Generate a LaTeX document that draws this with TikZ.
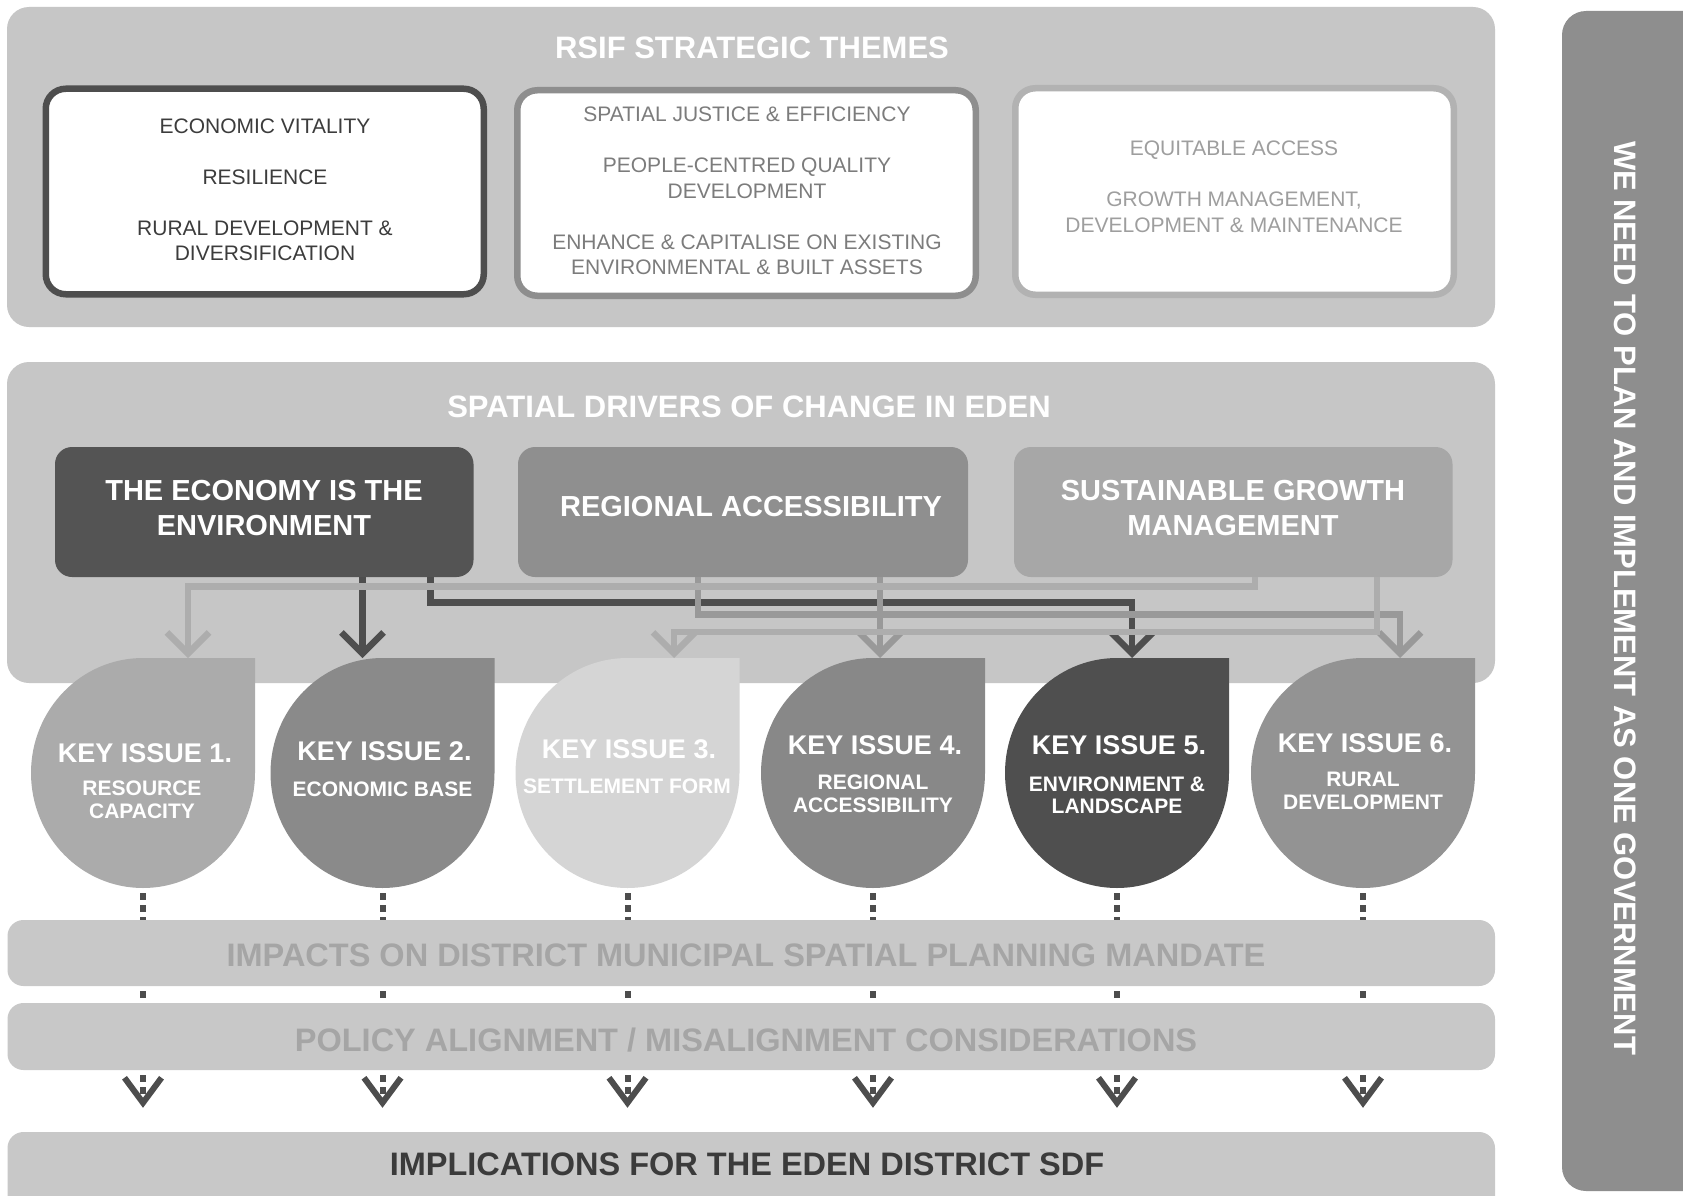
\documentclass[tikz,border=0pt]{standalone}
\usepackage{fontspec}
\setmainfont{Liberation Sans}
\usetikzlibrary{arrows.meta}

\definecolor{panelgrey}{HTML}{C6C6C6}
\definecolor{rowgrey}{HTML}{C8C8C8}
\definecolor{rowtext}{HTML}{A5A5A5}
\definecolor{barfill}{HTML}{8E8E8E}
\definecolor{edgeA}{HTML}{4E4E4E}
\definecolor{edgeB}{HTML}{8E8E8E}
\definecolor{edgeC}{HTML}{B2B2B2}
\definecolor{txtA}{HTML}{3C3C3C}
\definecolor{txtB}{HTML}{7C7C7C}
\definecolor{txtC}{HTML}{9E9E9E}
\definecolor{drvA}{HTML}{545454}
\definecolor{drvB}{HTML}{8F8F8F}
\definecolor{drvC}{HTML}{A7A7A7}
\definecolor{keyA}{HTML}{ABABAB}
\definecolor{keyB}{HTML}{8A8A8A}
\definecolor{keyC}{HTML}{D5D5D5}
\definecolor{keyD}{HTML}{888888}
\definecolor{keyE}{HTML}{4F4F4F}
\definecolor{keyF}{HTML}{939393}
\definecolor{lnDark}{HTML}{4E4E4E}
\definecolor{lnMid}{HTML}{999999}
\definecolor{lnLight}{HTML}{ADADAD}
\definecolor{dashgrey}{HTML}{4D4D4D}
\definecolor{sdftext}{HTML}{3B3B3B}

% leaf-shaped key issue badge: rounded everywhere except the top-right corner
\newcommand\keydrop[2]{%
  \fill[#2] (#1,658) -- ({#1+112},658) -- ({#1+112},773)
    .. controls ({#1+112},836.5) and ({#1+61.9},888) .. (#1,888)
    .. controls ({#1-61.9},888) and ({#1-112},836.5) .. ({#1-112},773)
    .. controls ({#1-112},709.5) and ({#1-61.9},658) .. (#1,658) -- cycle;}

\begin{document}
\begin{tikzpicture}[x=1pt,y=-1pt,
  panel/.style={fill=panelgrey, rounded corners=22pt},
  theme/.style={fill=white, line width=6.5pt, rounded corners=20pt},
  driver/.style={rectangle, rounded corners=17pt, inner sep=0pt, minimum height=130pt},
  band/.style={rectangle, rounded corners=16pt, fill=rowgrey, inner sep=0pt, minimum width=1487.5pt},
  head/.style={font=\fontsize{31}{37}\selectfont\bfseries, text=white, inner sep=0pt},
  themetext/.style={font=\fontsize{21}{25.5}\selectfont, align=center, inner sep=0pt},
  drvtext/.style={font=\fontsize{29}{34.5}\selectfont\bfseries, text=white, align=center, inner sep=0pt},
  keytitle/.style={font=\fontsize{27}{32}\selectfont\bfseries, text=white, inner sep=0pt},
  keysub/.style={font=\fontsize{21}{22.5}\selectfont\bfseries, text=white, align=center, inner sep=0pt},
  bandtext/.style={font=\fontsize{32.5}{38}\selectfont\bfseries, inner sep=0pt},
  feed/.style={line width=6.5pt, -{Straight Barb[length=21pt,width=42pt,line width=6.5pt]}},
  dots/.style={draw=dashgrey, line width=6pt, dash pattern=on 7pt off 5pt, dash phase=7pt},
  dotsarrow/.style={dots, -{Straight Barb[length=25pt,width=37pt,line width=6pt]}},
]
\useasboundingbox (0,0) rectangle (1683,1196);
\clip (0,0) rectangle (1683,1196);
\fill[white] (0,0) rectangle (1683,1196);

% ---- strategic themes panel
\fill[panel] (7,7) rectangle (1495,327);
\node[head] (hTheme) at (752,48) {RSIF STRATEGIC THEMES};
\draw[theme, draw=edgeA] (45.75,88.75) rectangle (483.75,294.25);
\draw[theme, draw=edgeB] (517.25,90.25) rectangle (975.75,295.75);
\draw[theme, draw=edgeC] (1015.25,88.25) rectangle (1453.75,294.75);
\node[themetext, text=txtA] (thA) at (265,190) {ECONOMIC VITALITY\\[25.5pt]RESILIENCE\\[25.5pt]RURAL DEVELOPMENT \&\\DIVERSIFICATION};
\node[themetext, text=txtB] (thB) at (747,191) {SPATIAL JUSTICE \& EFFICIENCY\\[25.5pt]PEOPLE-CENTRED QUALITY\\DEVELOPMENT\\[25.5pt]ENHANCE \& CAPITALISE ON EXISTING\\ENVIRONMENTAL \& BUILT ASSETS};
\node[themetext, text=txtC] (thC) at (1234,186.7) {EQUITABLE ACCESS\\[25.5pt]GROWTH MANAGEMENT,\\DEVELOPMENT \& MAINTENANCE};

% ---- spatial drivers panel
\fill[panel] (7,362) rectangle (1495,683);
\node[head] (hDrive) at (749,406.5) {SPATIAL DRIVERS OF CHANGE IN EDEN};
\node[driver, fill=drvA, minimum width=418.5pt] (drA) at (264.25,512) {};
\node[driver, fill=drvB, minimum width=450pt] (drB) at (743,512) {};
\node[driver, fill=drvC, minimum width=438.5pt] (drC) at (1233.25,512) {};
\node[drvtext] (drAt) at (264,508) {THE ECONOMY IS THE\\ENVIRONMENT};
\node[drvtext] (drBt) at (751,507) {REGIONAL ACCESSIBILITY};
\node[drvtext] (drCt) at (1233,508) {SUSTAINABLE GROWTH\\MANAGEMENT};

% ---- key issues
\keydrop{143}{keyA}
\keydrop{382.5}{keyB}
\keydrop{627.5}{keyC}
\keydrop{873}{keyD}
\keydrop{1117}{keyE}
\keydrop{1363}{keyF}
\node[keytitle] (k1t) at (145,753) {KEY ISSUE 1.};
\node[keysub] (k1s) at (142,800) {RESOURCE\\CAPACITY};
\node[keytitle] (k2t) at (384.5,751) {KEY ISSUE 2.};
\node[keysub] (k2s) at (382.5,789) {ECONOMIC BASE};
\node[keytitle] (k3t) at (629,749.5) {KEY ISSUE 3.};
\node[keysub] (k3s) at (627,786) {SETTLEMENT FORM};
\node[keytitle] (k4t) at (875,745) {KEY ISSUE 4.};
\node[keysub] (k4s) at (873,793.7) {REGIONAL\\ACCESSIBILITY};
\node[keytitle] (k5t) at (1119,745) {KEY ISSUE 5.};
\node[keysub] (k5s) at (1117,795.3) {ENVIRONMENT \&\\LANDSCAPE};
\node[keytitle] (k6t) at (1365,743.3) {KEY ISSUE 6.};
\node[keysub] (k6s) at (1363,791) {RURAL\\DEVELOPMENT};

% arrow targets on the badges and bend points of the feeds
\coordinate (a1) at (188,658);
\coordinate (a2) at (362.5,658);
\coordinate (a3) at (674,658);
\coordinate (a4) at (880,658);
\coordinate (a5) at (1132,658);
\coordinate (a6) at (1400,658);
\coordinate (w1) at (1255,586.5);
\coordinate (w3) at (1377,632);
\coordinate (w5) at (430.5,602.5);
\coordinate (w6) at (698,614.5);

\draw[feed, lnDark] (drA.south -| a2) -- (a2);
\draw[feed, lnDark] (drA.south -| w5) -- (w5) -| (a5);
\draw[feed, lnMid] (drB.south -| w6) -- (w6) -| (a6);
\draw[feed, lnMid] (drB.south -| a4) -- (a4);
\draw[feed, lnLight] (drC.south -| w1) -- (w1) -| (a1);
\draw[feed, lnLight] (drC.south -| w3) -- (w3) -| (a3);

% ---- bands below
\node[band, minimum height=66pt] (row1) at (751.25,953) {};
\node[band, minimum height=67pt] (row2) at (751.25,1036.5) {};
\node[band, minimum height=110pt] (row3) at (751.25,1187) {};
\node[bandtext, text=rowtext] (row1t) at (746,955) {IMPACTS ON DISTRICT MUNICIPAL SPATIAL PLANNING MANDATE};
\node[bandtext, text=rowtext] (row2t) at (746,1040.5) {POLICY ALIGNMENT / MISALIGNMENT CONSIDERATIONS};
\node[bandtext, text=sdftext] (row3t) at (747,1164) {IMPLICATIONS FOR THE EDEN DISTRICT SDF};

\foreach \i/\cx in {1/143,2/382.5,3/627.5,4/873,5/1117,6/1363}{
  \coordinate (kb\i) at (\cx,888);
  \draw[dots] (kb\i) -- (kb\i |- row1.north);
  \draw[dots] (kb\i |- row1.south) -- (kb\i |- row2.north);
  \draw[dotsarrow, shorten >=24pt] (kb\i |- row2.south) -- (kb\i |- row3.north);
}

% ---- side bar
\fill[barfill, rounded corners=24pt] (1562,11) rectangle (1720,1191);
\node[font=\fontsize{31}{37}\selectfont\bfseries, text=white, rotate=-90, inner sep=0pt] (barT) at (1625,598) {WE NEED TO PLAN AND IMPLEMENT AS ONE GOVERNMENT};
\end{tikzpicture}
\end{document}
